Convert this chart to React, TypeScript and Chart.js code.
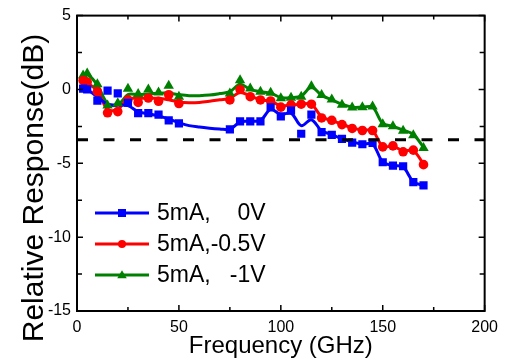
import React, { useEffect, useRef } from "react";
import { Chart, registerables } from "chart.js";

Chart.register(...registerables);

// ---------- data ----------
const markerFreqs = [3, 5, 10, 15, 20, 25, 30, 35, 40, 45, 50, 75, 80, 85, 90, 95, 100, 105, 110, 115, 120, 125, 130, 135, 140, 145, 150, 155, 160, 165, 170];
const blue0V = [0.05, 0.0, -0.75, -0.08, -0.27, -0.9, -1.6, -1.6, -1.7, -2.1, -2.3, -2.7, -2.16, -2.16, -2.16, -1.22, -1.82, -1.44, -3.0, -1.71, -2.89, -3.08, -3.35, -3.6, -3.71, -3.62, -4.93, -5.16, -5.2, -6.27, -6.49];
const redM05V = [0.6, 0.5, -0.15, -1.58, -1.5, -0.7, -0.88, -0.58, -0.8, -0.36, -0.95, -0.71, 0.0, -0.49, -0.71, -0.78, -1.2, -1.04, -1.0, -1.0, -1.93, -2.09, -2.38, -2.64, -2.78, -2.78, -3.89, -3.82, -4.22, -4.11, -5.09];
const greenM1V = [0.95, 1.08, 0.35, -1.08, -0.94, 0.05, -0.3, 0.0, -0.21, 0.25, -0.49, -0.27, 0.62, 0.07, -0.16, -0.22, -0.6, -0.56, -0.49, 0.22, -0.38, -0.68, -1.04, -1.22, -1.2, -1.16, -2.36, -2.49, -2.8, -3.1, -3.96];

const fitFreqs = [3, 5, 10, 15, 20, 25, 30, 35, 40, 45, 50, 55, 60, 65, 70, 75, 80, 85, 90, 95, 100, 105, 110, 115, 120, 125, 130, 135, 140, 145, 150, 155, 160, 165, 170];
const blueFit = [0.05, 0.0, -0.5, -1.0, -1.05, -1.1, -1.5, -1.65, -1.8, -2.0, -2.25, -2.45, -2.55, -2.62, -2.67, -2.7, -2.2, -2.15, -2.1, -1.35, -1.7, -1.6, -2.45, -2.05, -2.8, -3.05, -3.35, -3.55, -3.7, -3.7, -4.9, -5.15, -5.25, -6.25, -6.5];
const redFit = [0.6, 0.45, -0.1, -1.35, -1.35, -0.65, -0.6, -0.6, -0.6, -0.7, -0.85, -0.9, -0.88, -0.8, -0.7, -0.6, -0.2, -0.45, -0.7, -0.8, -1.1, -1.05, -1.0, -1.0, -1.85, -2.1, -2.35, -2.6, -2.75, -2.8, -3.85, -3.85, -4.15, -4.15, -5.05];
const greenFit = [1.0, 1.05, 0.3, -0.95, -1.05, -0.35, -0.35, -0.3, -0.25, -0.25, -0.35, -0.42, -0.42, -0.38, -0.28, -0.15, 0.35, 0.0, -0.15, -0.25, -0.55, -0.55, -0.45, 0.15, -0.4, -0.7, -1.0, -1.2, -1.2, -1.2, -2.3, -2.5, -2.75, -3.05, -3.9];

const thresholdFreqs = [0, 200];
const thresholdDb = [-3.4, -3.4];

const xTicks = [0, 50, 100, 150, 200];
const yTicks = [-15, -10, -5, 0, 5];
const xMinorTicks = [25, 75, 125, 175];
const yMinorTicks = [-12.5, -7.5, -2.5, 2.5];

const seriesCurrent = ["5mA,", "5mA,", "5mA,"];
const seriesBias = ["0V", "-0.5V", "-1V"];
const seriesColors = ["#0000FF", "#FF0000", "#008000"];
const seriesMarkers = ["rect", "circle", "triangle"];

const xTitle = "Frequency (GHz)";
const yTitle = "Relative Response(dB)";

const FONT = "'Liberation Sans', Arial, sans-serif";

const pts = (xs: number[], ys: number[]) => xs.map((x, i) => ({ x, y: ys[i] }));

function drawMarker(ctx: CanvasRenderingContext2D, kind: string, x: number, y: number, r: number, color: string) {
  ctx.save();
  ctx.fillStyle = color;
  ctx.beginPath();
  if (kind === "rect") {
    const s = r * 0.8;
    ctx.rect(x - s, y - s, 2 * s, 2 * s);
  } else if (kind === "circle") {
    ctx.arc(x, y, r * 0.8, 0, Math.PI * 2);
  } else {
    const h = r * 1.6;
    ctx.moveTo(x, y - h * 0.6);
    ctx.lineTo(x + r * 0.95, y + h * 0.4);
    ctx.lineTo(x - r * 0.95, y + h * 0.4);
    ctx.closePath();
  }
  ctx.fill();
  ctx.restore();
}

const decorPlugin = {
  id: "decor",
  afterDraw(chart: any) {
    const { ctx, chartArea, scales } = chart;
    const { left, right, top, bottom } = chartArea;
    const xs = scales.x;
    const ys = scales.y;
    ctx.save();
    // frame
    ctx.strokeStyle = "#000";
    ctx.lineWidth = 2;
    ctx.strokeRect(left, top, right - left, bottom - top);
    // inward ticks
    const tick = (vals: number[], len: number) => {
      vals.forEach((v) => {
        const px = xs.getPixelForValue(v);
        ctx.beginPath();
        ctx.moveTo(px, bottom);
        ctx.lineTo(px, bottom - len);
        ctx.moveTo(px, top);
        ctx.lineTo(px, top + len);
        ctx.stroke();
      });
    };
    const ytick = (vals: number[], len: number) => {
      vals.forEach((v) => {
        const py = ys.getPixelForValue(v);
        ctx.beginPath();
        ctx.moveTo(left, py);
        ctx.lineTo(left + len, py);
        ctx.moveTo(right, py);
        ctx.lineTo(right - len, py);
        ctx.stroke();
      });
    };
    ctx.lineWidth = 1.5;
    tick(xTicks, 6);
    tick(xMinorTicks, 4);
    ytick(yTicks, 6);
    ytick(yMinorTicks, 5);

    // legend
    const rowY = [213, 244, 275];
    ctx.font = `23px ${FONT}`;
    ctx.textBaseline = "middle";
    const textLeft = 157;
    const rightEdge = textLeft + ctx.measureText(seriesCurrent[1] + seriesBias[1]).width;
    for (let i = 0; i < 3; i++) {
      const y = rowY[i];
      ctx.strokeStyle = seriesColors[i];
      ctx.lineWidth = 3;
      ctx.beginPath();
      ctx.moveTo(95, y);
      ctx.lineTo(149, y);
      ctx.stroke();
      drawMarker(ctx, seriesMarkers[i], 122, y, 5, seriesColors[i]);
      ctx.fillStyle = "#000";
      ctx.textAlign = "left";
      ctx.fillText(seriesCurrent[i], textLeft, y + 1);
      ctx.textAlign = "right";
      ctx.fillText(seriesBias[i], rightEdge, y + 1);
    }

    // axis titles
    ctx.fillStyle = "#000";
    ctx.font = `24px ${FONT}`;
    ctx.textAlign = "center";
    ctx.textBaseline = "alphabetic";
    ctx.fillText(xTitle, (left + right) / 2, 353);
    ctx.save();
    ctx.translate(43, 188);
    ctx.rotate(-Math.PI / 2);
    ctx.font = `30px ${FONT}`;
    ctx.fillText(yTitle, 0, 0);
    ctx.restore();
    ctx.restore();
  },
};

export default function App() {
  const canvasRef = useRef<HTMLCanvasElement | null>(null);

  useEffect(() => {
    const canvas = canvasRef.current;
    if (!canvas) return;
    const lineDs = (data: number[], color: string) => ({
      type: "line" as const,
      data: pts(fitFreqs, data),
      borderColor: color,
      borderWidth: 3,
      pointRadius: 0,
      tension: 0.35,
      fill: false,
      order: 2,
    });
    const markDs = (data: number[], color: string, style: string, r: number) => ({
      type: "line" as const,
      data: pts(markerFreqs, data),
      showLine: false,
      borderColor: color,
      backgroundColor: color,
      pointStyle: style,
      pointRadius: r,
      pointBorderWidth: 0,
      order: 1,
    });
    const chart = new Chart(canvas, {
      type: "line",
      data: {
        datasets: [
          lineDs(blueFit, seriesColors[0]),
          lineDs(redFit, seriesColors[1]),
          lineDs(greenFit, seriesColors[2]),
          markDs(blue0V, seriesColors[0], "rect", 5.8),
          markDs(redM05V, seriesColors[1], "circle", 4.8),
          markDs(greenM1V, seriesColors[2], "triangle", 6),
          {
            type: "line",
            data: pts(thresholdFreqs, thresholdDb),
            borderColor: "#000",
            borderWidth: 3,
            borderDash: [11, 15.5],
            pointRadius: 0,
            fill: false,
            order: 0,
          } as any,
        ],
      },
      options: {
        animation: false,
        responsive: false,
        maintainAspectRatio: false,
        layout: { padding: { top: 11, right: 14, left: 0, bottom: 0 } },
        plugins: { legend: { display: false }, tooltip: { enabled: false } },
        scales: {
          x: {
            type: "linear",
            min: 0,
            max: 200,
            afterBuildTicks: (s: any) => {
              s.ticks = xTicks.map((v) => ({ value: v }));
            },
            afterFit: (s: any) => {
              s.height = 51;
            },
            grid: { display: false, drawTicks: false },
            border: { display: false },
            ticks: { padding: 7, color: "#000", font: { family: FONT, size: 16 }, maxRotation: 0 },
          },
          y: {
            type: "linear",
            min: -15,
            max: 5,
            afterBuildTicks: (s: any) => {
              s.ticks = yTicks.map((v) => ({ value: v }));
            },
            afterFit: (s: any) => {
              s.width = 77;
            },
            grid: { display: false, drawTicks: false },
            border: { display: false },
            ticks: { padding: 6, color: "#000", font: { family: FONT, size: 16 } },
          },
        },
      } as any,
      plugins: [decorPlugin],
    });
    return () => chart.destroy();
  }, []);

  return (
    <div style={{ position: "fixed", left: 0, top: 0, width: 505, height: 362, background: "#fff" }}>
      <canvas ref={canvasRef} width={505} height={362} style={{ width: 505, height: 362 }} />
    </div>
  );
}
